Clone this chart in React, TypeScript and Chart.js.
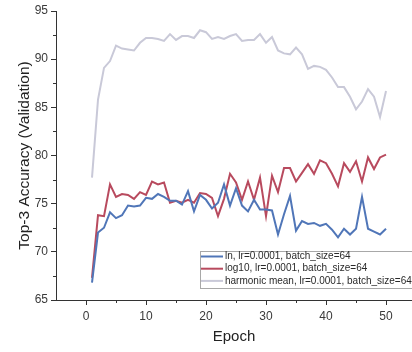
import React, { useEffect, useRef } from "react";
import { Chart, registerables } from "chart.js";

Chart.register(...registerables);

const epochs = [1,2,3,4,5,6,7,8,9,10,11,12,13,14,15,16,17,18,19,20,21,22,23,24,25,26,27,28,29,30,31,32,33,34,35,36,37,38,39,40,41,42,43,44,45,46,47,48,49,50];

const lnValues = [66.8,72.0,72.5,74.1,73.5,73.8,74.8,74.7,74.8,75.6,75.5,76.0,75.7,75.3,75.3,74.9,76.3,74.2,75.9,75.4,74.5,75.1,77.0,74.8,76.6,74.8,74.2,75.4,74.4,74.4,74.3,71.8,73.9,75.8,72.2,73.2,72.9,73.0,72.7,72.9,72.3,71.5,72.4,71.8,72.4,75.7,72.4,72.1,71.8,72.4];

const log10Values = [67.3,73.8,73.7,77.0,75.7,76.0,75.9,75.5,76.2,75.9,77.3,77.0,77.2,75.1,75.3,75.1,75.4,75.1,76.1,76.0,75.6,73.7,75.5,78.1,77.2,75.4,77.3,75.4,77.7,73.7,77.9,76.2,78.7,78.7,77.3,78.2,79.1,78.1,79.5,79.2,78.1,76.8,79.2,78.3,79.4,77.3,79.8,78.6,79.8,80.1];

const harmonicValues = [77.7,85.8,89.1,89.8,91.4,91.1,91.0,90.9,91.7,92.2,92.2,92.1,91.9,92.6,92.0,92.4,92.4,92.2,93.0,92.8,92.1,92.3,92.1,92.4,92.6,91.9,92.0,92.0,92.6,91.7,92.3,90.9,90.6,90.5,91.2,90.5,89.0,89.3,89.2,88.9,88.1,87.1,87.1,86.1,84.8,85.6,86.9,86.1,84.0,86.7];

const seriesLabels = [
  "ln, lr=0.0001, batch_size=64",
  "log10, lr=0.0001, batch_size=64",
  "harmonic mean, lr=0.0001, batch_size=64",
];

const xMajorTicks = [0, 10, 20, 30, 40, 50];
const xMinorTicks = [5, 15, 25, 35, 45];
const yMinorTicks = [67.5, 72.5, 77.5, 82.5, 87.5, 92.5];

const FONT = "'Liberation Sans', Arial, sans-serif";
const AXIS = "#333333";

const minorTickPlugin = {
  id: "minorTicks",
  afterDraw(chart: any) {
    const ctx = chart.ctx;
    const xs = chart.scales.x;
    const ys = chart.scales.y;
    ctx.save();
    ctx.strokeStyle = AXIS;
    ctx.lineWidth = 1;
    ctx.beginPath();
    for (const v of xMinorTicks) {
      const px = Math.round(xs.getPixelForValue(v)) + 0.5;
      ctx.moveTo(px, xs.top);
      ctx.lineTo(px, xs.top + 3);
    }
    for (const v of yMinorTicks) {
      const py = Math.round(ys.getPixelForValue(v)) + 0.5;
      ctx.moveTo(ys.right, py);
      ctx.lineTo(ys.right - 3, py);
    }
    ctx.stroke();
    ctx.restore();
  },
};

const insideLegendPlugin = {
  id: "insideLegend",
  afterDraw(chart: any) {
    const ctx = chart.ctx;
    const area = chart.chartArea;
    const left = area.left + 144;
    const top = area.top + 240;
    const w = 230;
    const h = 37;
    ctx.save();
    ctx.fillStyle = "#ffffff";
    ctx.fillRect(left, top, w, h);
    ctx.strokeStyle = "#a8a8a8";
    ctx.lineWidth = 1;
    ctx.strokeRect(left + 0.5, top + 0.5, w, h);
    ctx.font = "10px " + FONT;
    ctx.textBaseline = "middle";
    chart.data.datasets.forEach((ds: any, i: number) => {
      const y = top + 5.5 + i * 12.2;
      ctx.strokeStyle = ds.borderColor;
      ctx.lineWidth = 2;
      ctx.beginPath();
      ctx.moveTo(left + 1, y);
      ctx.lineTo(left + 23, y);
      ctx.stroke();
      ctx.fillStyle = "#2a2a2a";
      ctx.fillText(ds.label, left + 25, y);
    });
    ctx.restore();
  },
};

export default function App() {
  const ref = useRef<HTMLCanvasElement | null>(null);
  useEffect(() => {
    document.body.style.margin = "0";
    const canvas = ref.current!;
    const chart = new Chart(canvas, {
      type: "line",
      data: {
        labels: epochs,
        datasets: [
          {
            label: seriesLabels[0],
            data: epochs.map((e, i) => ({ x: e, y: lnValues[i] })),
            borderColor: "#5076b8",
            borderWidth: 2,
            pointRadius: 0,
            tension: 0,
            order: 1,
          },
          {
            label: seriesLabels[1],
            data: epochs.map((e, i) => ({ x: e, y: log10Values[i] })),
            borderColor: "#b84a5e",
            borderWidth: 2,
            pointRadius: 0,
            tension: 0,
            order: 2,
          },
          {
            label: seriesLabels[2],
            data: epochs.map((e, i) => ({ x: e, y: harmonicValues[i] })),
            borderColor: "#c9c9d8",
            borderWidth: 2,
            pointRadius: 0,
            tension: 0,
            order: 3,
          },
        ],
      },
      options: {
        responsive: false,
        animation: false,
        devicePixelRatio: 1,
        layout: { padding: { top: 11, right: 0, bottom: 0, left: 0 } },
        plugins: {
          legend: { display: false },
          tooltip: { enabled: false },
        },
        scales: {
          x: {
            type: "linear",
            min: -5,
            max: 54.33,
            afterBuildTicks: (scale: any) => {
              scale.ticks = xMajorTicks.map((v) => ({ value: v }));
            },
            afterFit: (scale: any) => {
              scale.height = 52;
            },
            grid: {
              drawOnChartArea: false,
              drawTicks: true,
              tickLength: 5,
              tickColor: AXIS,
            },
            border: { display: true, color: AXIS, width: 1 },
            ticks: {
              color: "#3a3a3a",
              font: { family: FONT, size: 12 },
              padding: 4,
              maxRotation: 0,
              autoSkip: false,
            },
            title: {
              display: true,
              text: "Epoch",
              color: "#222222",
              font: { family: FONT, size: 15 },
              padding: { top: 0, bottom: 6 },
            },
          },
          y: {
            min: 65,
            max: 95,
            afterFit: (scale: any) => {
              scale.width = 56;
            },
            grid: {
              drawOnChartArea: false,
              drawTicks: true,
              tickLength: 5,
              tickColor: AXIS,
            },
            border: { display: true, color: AXIS, width: 1 },
            ticks: {
              stepSize: 5,
              color: "#3a3a3a",
              font: { family: FONT, size: 12 },
              padding: 3,
            },
            title: {
              display: true,
              text: "Top-3 Accuracy (Validation)",
              color: "#222222",
              font: { family: FONT, size: 15.5 },
              padding: { top: 15, bottom: 0 },
            },
          },
        },
      },
      plugins: [minorTickPlugin, insideLegendPlugin],
    });
    return () => chart.destroy();
  }, []);
  return (
    <div style={{ position: "absolute", left: 0, top: 0, width: 412, height: 352, background: "#fff" }}>
      <canvas ref={ref} width={412} height={352} style={{ display: "block" }} />
    </div>
  );
}
